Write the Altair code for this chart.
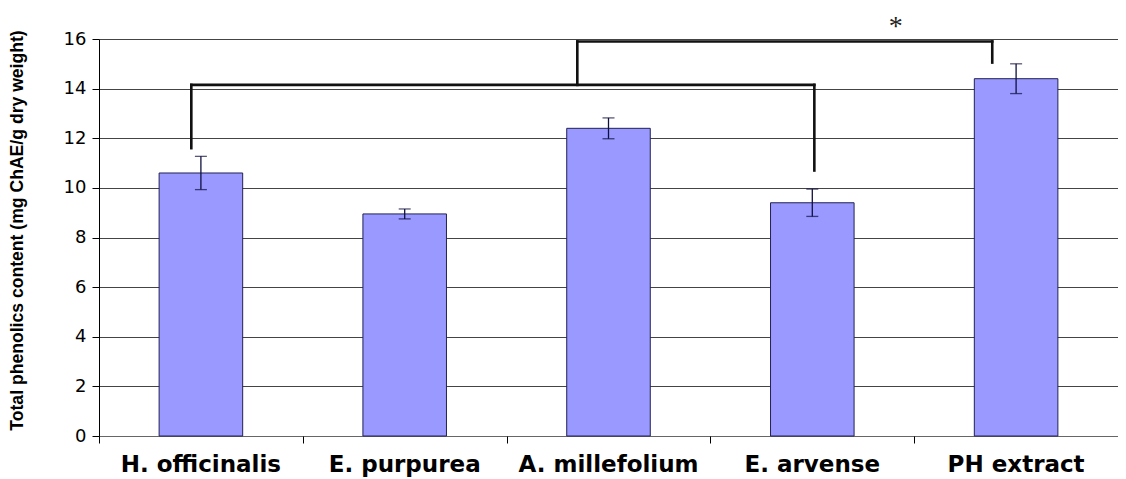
import altair as alt
import pandas as pd

# ---- data ----
categories = ["H. officinalis", "E. purpurea", "A. millefolium", "E. arvense", "PH extract"]
means = [10.6, 8.95, 12.4, 9.4, 14.4]
errors = [0.67, 0.2, 0.42, 0.55, 0.6]

# category boundaries (for the x-axis tick marks)
boundaries = [0, 1, 2, 3, 4, 5]

# significance brackets (x in category units 0..5, y in data units)
seg_x1 = [0.453, 0.453, 3.51, 2.347, 2.347, 4.383]
seg_x2 = [3.51, 0.453, 3.51, 4.383, 2.347, 4.383]
seg_y1 = [14.15, 14.15, 14.15, 15.9, 15.9, 15.9]
seg_y2 = [14.15, 11.6, 10.7, 15.9, 14.15, 15.05]

star_x = [3.91]
star_y = [16.5]
star_text = ["*"]

y_title = "Total phenolics content (mg ChAE/g dry weight)"

df = pd.DataFrame({
    "cat": categories,
    "mean": means,
    "lo": [m - e for m, e in zip(means, errors)],
    "hi": [m + e for m, e in zip(means, errors)],
})
seg_df = pd.DataFrame({"x1": seg_x1, "x2": seg_x2, "y1": seg_y1, "y2": seg_y2})
star_df = pd.DataFrame({"x": star_x, "y": star_y, "t": star_text})

xscale = alt.Scale(domain=categories, paddingInner=0.59, paddingOuter=0.295)
yscale = alt.Scale(domain=[0, 16], nice=False)

x_axis = alt.Axis(
    title=None, labelAngle=0, labelFont="DejaVu Sans", labelFontWeight="bold",
    labelFontSize=23, labelColor="black", labelPadding=17, labelLimit=400,
    ticks=False, domainColor="#666666", grid=False, orient="bottom",
)
y_axis = alt.Axis(
    values=list(range(0, 17, 2)), grid=True, gridColor="#444444", gridWidth=1,
    domainColor="black", tickColor="black", tickSize=7,
    labelFont="DejaVu Sans", labelFontSize=18, labelColor="black", labelPadding=6,
    title=y_title, titleFont="Liberation Sans",
    titleFontSize=17.6, titleFontWeight="bold", titleColor="black",
    titleX=-82, titleY=191, titleBaseline="middle", titleAlign="center", titleAngle=270,
)

bars = alt.Chart(df).mark_bar(color="#9999ff", stroke="#222255", strokeWidth=1).encode(
    x=alt.X("cat:N", scale=xscale, axis=x_axis, sort=categories),
    y=alt.Y("mean:Q", scale=yscale, axis=y_axis),
)
err = alt.Chart(df).mark_rule(color="#101040", strokeWidth=1.3).encode(
    x=alt.X("cat:N", scale=xscale, sort=categories, axis=None),
    y=alt.Y("lo:Q", scale=yscale, axis=None),
    y2="hi:Q",
)
cap_lo = alt.Chart(df).mark_tick(color="#101040", size=12, thickness=1.3).encode(
    x=alt.X("cat:N", scale=xscale, sort=categories, axis=None),
    y=alt.Y("lo:Q", scale=yscale, axis=None),
)
cap_hi = alt.Chart(df).mark_tick(color="#101040", size=12, thickness=1.3).encode(
    x=alt.X("cat:N", scale=xscale, sort=categories, axis=None),
    y=alt.Y("hi:Q", scale=yscale, axis=None),
)

qscale = alt.Scale(domain=[0, 5], nice=False, zero=False)
q_axis = alt.Axis(
    values=boundaries, labels=False, ticks=True, tickSize=7, tickColor="black",
    domain=False, grid=False, title=None, orient="bottom",
)
brackets = alt.Chart(seg_df).mark_rule(color="#111111", strokeWidth=2.6, strokeCap="square").encode(
    x=alt.X("x1:Q", scale=qscale, axis=q_axis),
    x2="x2:Q",
    y=alt.Y("y1:Q", scale=yscale, axis=None),
    y2="y2:Q",
)
star = alt.Chart(star_df).mark_text(font="Liberation Serif", fontSize=28, color="#222222").encode(
    x=alt.X("x:Q", scale=qscale, axis=None),
    y=alt.Y("y:Q", scale=yscale, axis=None),
    text="t:N",
)

inner_bars = alt.layer(bars, err, cap_lo, cap_hi).resolve_axis(x="independent", y="independent")
inner_ann = alt.layer(brackets, star).resolve_axis(x="independent", y="independent")

chart = alt.layer(inner_bars, inner_ann).resolve_scale(x="independent").resolve_axis(
    x="independent", y="independent"
).properties(
    width=1019, height=397,
    autosize=alt.AutoSizeParams(type="none"),
    padding={"left": 91, "top": 31, "right": 0, "bottom": 50},
).configure_view(stroke=None).configure(background="white")

chart.save("out.html", embed_options={"renderer": "svg", "actions": False})
